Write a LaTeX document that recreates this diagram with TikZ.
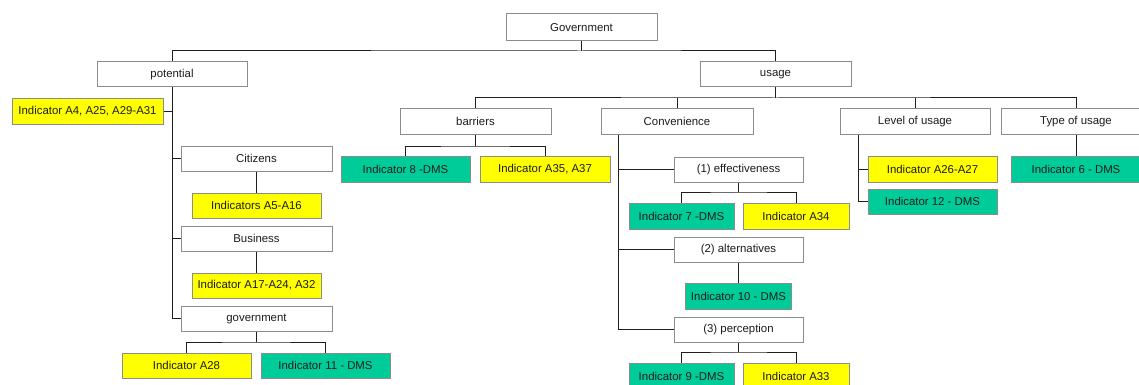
\documentclass[tikz,border=0pt]{standalone}
\usepackage{fontspec}
\setmainfont{Liberation Sans}
\definecolor{boxline}{RGB}{140,140,140}
\definecolor{linkline}{RGB}{30,30,30}
\definecolor{txt}{RGB}{28,28,28}
\definecolor{ylw}{RGB}{255,255,0}
\definecolor{grn}{RGB}{0,204,153}
\tikzset{
  base/.style={draw=boxline, line width=1pt, inner sep=1pt, text=txt,
    font=\fontsize{11.4}{13}\selectfont, anchor=center},
  wbox/.style={base, fill=white, minimum height=25pt},
  ybox/.style={base, fill=ylw},
  gbox/.style={base, fill=grn},
  link/.style={draw=linkline, line width=1pt},
}
\begin{document}
\begin{tikzpicture}[x=1pt,y=-1pt]
\useasboundingbox (0,0) rectangle (1139,385);
\clip (0,0) rectangle (1139,385);
\fill[white] (0,0) rectangle (1139,385);

% top level
\node[wbox, minimum width=151pt, minimum height=27pt] (gov) at (581.5,27.5) {Government};
\node[wbox, minimum width=150pt] (pot) at (172,74.5) {potential};
\node[wbox, minimum width=151pt] (use) at (775.5,74.5) {usage};

% potential branch
\node[ybox, minimum width=151pt, minimum height=25pt] (ia4) at (87.5,111.5) {Indicator A4, A25, A29-A31};
\node[wbox, minimum width=151pt] (cit) at (256.5,158.5) {Citizens};
\node[ybox, minimum width=129pt, minimum height=25pt] (ia5) at (256.5,205.5) {Indicators A5-A16};
\node[wbox, minimum width=151pt] (bus) at (256.5,238.5) {Business};
\node[ybox, minimum width=129pt, minimum height=25pt] (ia17) at (256.5,285.5) {Indicator A17-A24, A32};
\node[wbox, minimum width=151pt] (gvt) at (256.5,318.5) {government};
\node[ybox, minimum width=129pt, minimum height=25pt] (ia28) at (186.5,365.5) {Indicator A28};
\node[gbox, minimum width=129pt, minimum height=25pt] (i11) at (325.5,365.5) {Indicator 11 - DMS};

% usage branch
\node[wbox, minimum width=151pt] (bar) at (475.5,121.5) {barriers};
\node[wbox, minimum width=152pt] (con) at (677,121.5) {Convenience};
\node[wbox, minimum width=150pt] (lev) at (915,121.5) {Level of usage};
\node[wbox, minimum width=150pt] (typ) at (1076,121.5) {Type of usage};

\node[gbox, minimum width=129pt, minimum height=26pt] (i8) at (405.5,169) {Indicator 8 -DMS};
\node[ybox, minimum width=130pt, minimum height=26pt] (ia35) at (545,169) {Indicator A35, A37};

\node[wbox, minimum width=129pt] (eff) at (738.5,169.5) {(1) effectiveness};
\node[gbox, minimum width=105pt, minimum height=26pt] (i7) at (681.5,216) {Indicator 7 -DMS};
\node[ybox, minimum width=106pt, minimum height=26pt] (ia34) at (796,216) {Indicator A34};
\node[wbox, minimum width=129pt] (alt) at (738.5,249.5) {(2) alternatives};
\node[gbox, minimum width=106pt, minimum height=26pt] (i10) at (738.5,296) {Indicator 10 - DMS};
\node[wbox, minimum width=129pt] (per) at (738.5,329.5) {(3) perception};
\node[gbox, minimum width=105pt, minimum height=26pt] (i9) at (681.5,376) {Indicator 9 -DMS};
\node[ybox, minimum width=106pt, minimum height=26pt] (ia33) at (796,376) {Indicator A33};

\node[ybox, minimum width=129pt, minimum height=26pt] (ia26) at (932.5,169) {Indicator A26-A27};
\node[gbox, minimum width=129pt, minimum height=25pt] (i12) at (932.5,201.5) {Indicator 12 - DMS};
\node[gbox, minimum width=130pt, minimum height=26pt] (i6) at (1076,169) {Indicator 6 - DMS};

% junction points of the tree
\coordinate (j1) at (581.5,51);
\coordinate (j2) at (775.5,98);
\coordinate (j3) at (256.5,342);
\coordinate (j4) at (475.5,146);
\coordinate (j5) at (738.5,192);
\coordinate (j6) at (738.5,352);
\coordinate (cvt) at ([xshift=18pt]con.south west);
\coordinate (lvt) at ([xshift=19pt]lev.south west);

% connectors
\draw[link] (gov.south) -- (j1);
\draw[link] (pot.north) |- (j1) -| (use.north);

\draw[link] (pot.south) |- (gvt.west);
\draw[link] (ia4.east) -- (ia4.east -| pot.south);
\draw[link] (cit.west) -- (cit.west -| pot.south);
\draw[link] (bus.west) -- (bus.west -| pot.south);
\draw[link] (cit.south) -- (ia5.north);
\draw[link] (bus.south) -- (ia17.north);
\draw[link] (gvt.south) -- (j3);
\draw[link] (ia28.north) |- (j3) -| (i11.north);

\draw[link] (use.south) -- (j2);
\draw[link] (bar.north) |- (j2) -| (typ.north);
\draw[link] (con.north) -- (con.north |- j2);
\draw[link] (lev.north) -- (lev.north |- j2);

\draw[link] (bar.south) -- (j4);
\draw[link] (i8.north) |- (j4) -| (ia35.north);

\draw[link] (cvt) |- (per.west);
\draw[link] (eff.west) -- (eff.west -| cvt);
\draw[link] (alt.west) -- (alt.west -| cvt);
\draw[link] (eff.south) -- (j5);
\draw[link] (i7.north) |- (j5) -| (ia34.north);
\draw[link] (alt.south) -- (i10.north);
\draw[link] (per.south) -- (j6);
\draw[link] (i9.north) |- (j6) -| (ia33.north);

\draw[link] (lvt) |- (i12.west);
\draw[link] (ia26.west) -- (ia26.west -| lvt);
\draw[link] (typ.south) -- (i6.north);
\end{tikzpicture}
\end{document}
